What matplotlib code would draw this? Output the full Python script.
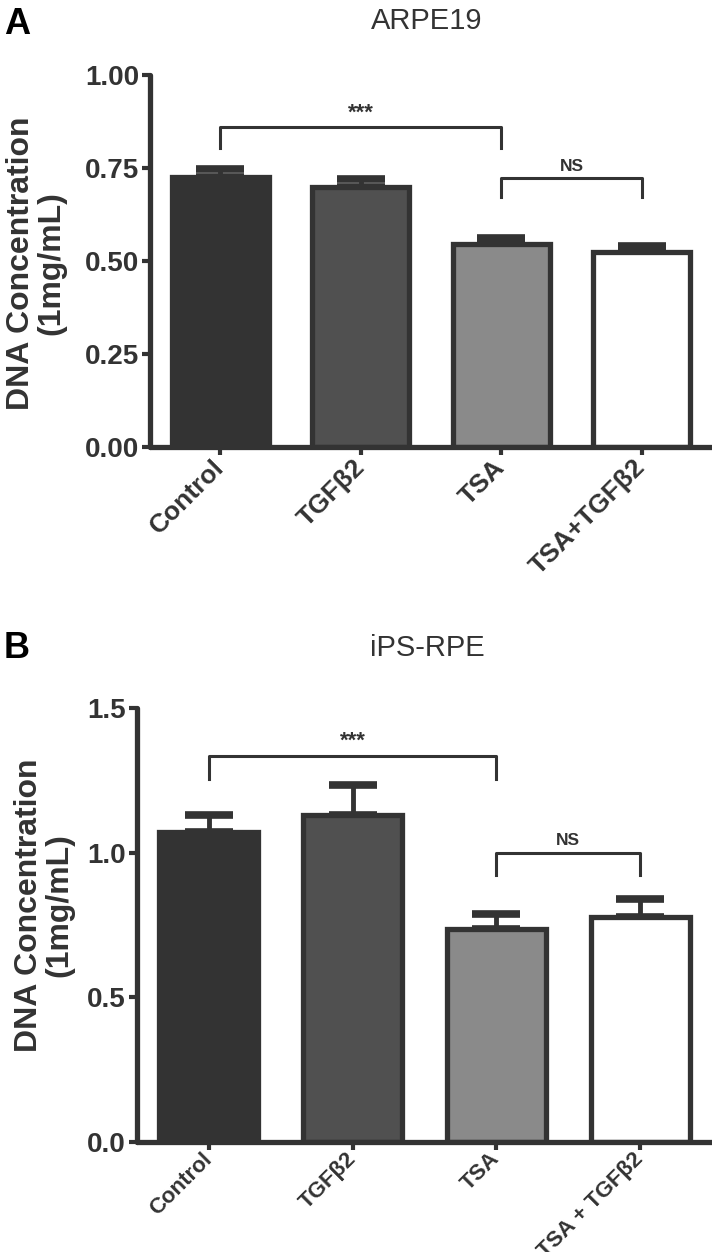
import matplotlib
matplotlib.use("Agg")
import matplotlib.pyplot as plt

# ---- data ----
cats_a = ["Control", "TGFβ2", "TSA", "TSA+TGFβ2"]
vals_a = [0.725, 0.700, 0.545, 0.525]
errs_a = [0.022, 0.020, 0.016, 0.015]
yticks_a = [0.00, 0.25, 0.50, 0.75, 1.00]
ytick_labels_a = ["0.00", "0.25", "0.50", "0.75", "1.00"]

cats_b = ["Control", "TGFβ2", "TSA", "TSA + TGFβ2"]
vals_b = [1.07, 1.13, 0.735, 0.778]
errs_b = [0.06, 0.105, 0.052, 0.062]
yticks_b = [0.0, 0.5, 1.0, 1.5]
ytick_labels_b = ["0.0", "0.5", "1.0", "1.5"]

face_colors = ["#333333", "#505050", "#8a8a8a", "#ffffff"]
edge = "#333333"

# significance brackets: (i, j, y_top, y_bottom, label)
sig_a = [(0, 2, 0.86, 0.805, "***"), (2, 3, 0.723, 0.672, "NS")]
sig_b = [(0, 2, 1.334, 1.255, "***"), (2, 3, 1.00, 0.924, "NS")]

FONT = 'Liberation Sans'
W, H = 712, 1252
fig = plt.figure(figsize=(W / 100, H / 100), dpi=100)


def panel(rect, cats, vals, errs, yticks, ylabels, ymax, title, letter, sig,
          letter_y, title_y, ylab_x, ylab_y, xfs, xpad):
    ax = fig.add_axes(rect)
    x = list(range(len(cats)))
    ax.bar(x, vals, width=0.69, color=face_colors, edgecolor=edge, linewidth=3.8, zorder=2)
    ax.errorbar(x, vals, yerr=[[0] * len(errs), errs], fmt='none', ecolor=edge,
                elinewidth=3.5, capsize=17, capthick=5.5, zorder=1)
    ax.set_xlim(-0.5, 3.5)
    ax.set_ylim(0, ymax)
    ax.set_xticks(x)
    ax.set_xticklabels(cats, rotation=45, ha='right', va='center', rotation_mode='anchor',
                       fontfamily=FONT, fontweight='bold', fontsize=xfs, color='#333333')
    ax.set_yticks(yticks)
    ax.set_yticklabels(ylabels, fontfamily=FONT, fontweight='bold', fontsize=20, color='#333333')
    for s in ['top', 'right']:
        ax.spines[s].set_visible(False)
    for s in ['left', 'bottom']:
        ax.spines[s].set_linewidth(3.8)
        ax.spines[s].set_color(edge)
        ax.spines[s].set_capstyle('round')
    ax.tick_params(axis='both', direction='out', length=6, width=3, color=edge, pad=2)
    ax.tick_params(axis='x', pad=xpad)
    fig.text(ylab_x / W, 1 - ylab_y / H, "DNA Concentration\n(1mg/mL)", rotation=90,
             ha='center', va='center', fontfamily=FONT, fontweight='bold', fontsize=23,
             color='#333333', linespacing=1.0, multialignment='center')
    for i, j, yt, yb, lab in sig:
        ax.plot([i, i, j, j], [yb, yt, yt, yb], color=edge, linewidth=2.2, clip_on=False)
        fs = 16 if lab == "***" else 12.5
        ax.text((i + j) / 2, yt + ymax * 0.010, lab, ha='center', va='bottom', fontsize=fs,
                fontfamily=FONT, fontweight='bold', color='#333333')
    fig.text(427 / W, 1 - title_y / H, title, ha='center', va='center', fontsize=21,
             fontfamily=FONT, color='#333333')
    fig.text(4 / W, 1 - letter_y / H, letter, ha='left', va='center', fontsize=26,
             fontfamily=FONT, fontweight='bold', color='black')
    return ax


panel([150 / W, 1 - 447 / H, 562 / W, 372 / H], cats_a, vals_a, errs_a, yticks_a,
      ytick_labels_a, 1.0, "ARPE19", "A", sig_a, 24, 21, 36, 263, 19, 6)
panel([137 / W, 1 - 1142 / H, 575 / W, 434 / H], cats_b, vals_b, errs_b, yticks_b,
      ytick_labels_b, 1.5, "iPS-RPE", "B", sig_b, 649, 648, 44, 905, 16, 4)

fig.savefig("out.png", dpi=100)
